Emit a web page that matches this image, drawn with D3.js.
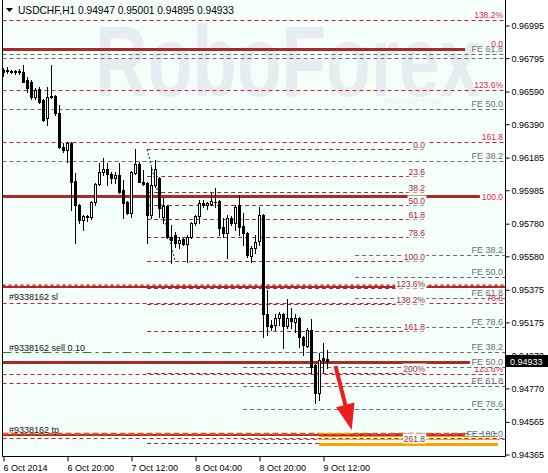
<!DOCTYPE html>
<html><head><meta charset="utf-8">
<script src="https://cdn.jsdelivr.net/npm/d3@7"></script>
<style>
html,body{margin:0;padding:0;background:#fff;}
svg{display:block;font-family:"Liberation Sans",Arial,sans-serif;}
</style>
</head><body>
<svg id="c" width="548" height="473"></svg>
<script>
// ---------------- DATA ----------------
const symbolTitle = "USDCHF,H1";
const lastOHLC = [0.94947, 0.95001, 0.94895, 0.94933];
const lastPrice = 0.94933;

const opens = [0.96719,0.96719,0.96713,0.96707,0.96713,0.96707,0.96658,0.96646,0.96554,0.96603,
0.96535,0.96425,0.96554,0.96560,0.96456,0.96247,0.96229,0.96272,0.96039,0.95891,
0.95799,0.95824,0.95815,0.95910,0.96020,0.96094,0.96112,0.96082,0.96057,0.96075,
0.95983,0.95910,0.95842,0.96088,0.96143,0.96033,0.96026,0.95830,0.96014,0.96057,
0.95818,0.95885,0.95695,0.95708,0.95659,0.95683,0.95653,0.95695,0.95781,0.95824,
0.95904,0.95891,0.95898,0.95910,0.95916,0.95757,0.95720,0.95812,0.95781,0.95891,
0.95763,0.95720,0.95579,0.95628,0.95671,0.95830,0.95223,0.95156,0.95156,0.95199,
0.95223,0.95150,0.95199,0.95174,0.95199,0.95082,0.95027,0.95125,0.94910,0.94739,
0.94953,0.94947];
const highs = [0.96731,0.96738,0.96719,0.96719,0.96725,0.96750,0.96676,0.96658,0.96609,0.96615,
0.96541,0.96615,0.96750,0.96566,0.96505,0.96272,0.96278,0.96278,0.96088,0.95897,
0.95830,0.95830,0.95916,0.96026,0.96149,0.96180,0.96149,0.96094,0.96094,0.96149,
0.96045,0.95916,0.96100,0.96235,0.96155,0.96106,0.96032,0.96124,0.96167,0.96063,
0.95934,0.95891,0.95769,0.95726,0.95695,0.95689,0.95708,0.95787,0.95830,0.95922,
0.95922,0.95910,0.95965,0.95996,0.95922,0.95812,0.95830,0.95824,0.95891,0.95953,
0.95842,0.95726,0.95640,0.95708,0.95879,0.95836,0.95370,0.95186,0.95223,0.95235,
0.95229,0.95315,0.95260,0.95223,0.95205,0.95088,0.95137,0.95192,0.94916,0.94984,
0.95045,0.95001];
const lows = [0.96682,0.96701,0.96701,0.96695,0.96695,0.96646,0.96584,0.96541,0.96541,0.96517,
0.96407,0.96382,0.96547,0.96443,0.96241,0.96216,0.96155,0.95861,0.95659,0.95781,
0.95738,0.95793,0.95806,0.95891,0.96014,0.96075,0.96014,0.96026,0.96026,0.95965,
0.95812,0.95836,0.95818,0.96082,0.96033,0.96014,0.95659,0.95812,0.96002,0.95818,
0.95781,0.95689,0.95536,0.95634,0.95628,0.95646,0.95542,0.95689,0.95769,0.95781,
0.95879,0.95867,0.95891,0.95879,0.95708,0.95695,0.95567,0.95769,0.95738,0.95708,
0.95646,0.95573,0.95542,0.95597,0.95646,0.95082,0.95094,0.95125,0.95125,0.95156,
0.95015,0.95137,0.95137,0.95113,0.95021,0.94972,0.95021,0.94861,0.94677,0.94696,
0.94868,0.94895];
const closes = [0.96707,0.96713,0.96707,0.96713,0.96707,0.96646,0.96609,0.96554,0.96596,0.96523,
0.96413,0.96554,0.96560,0.96456,0.96247,0.96229,0.96272,0.96033,0.95891,0.95799,
0.95824,0.95815,0.95910,0.96020,0.96094,0.96112,0.96082,0.96057,0.96075,0.95971,
0.95904,0.95842,0.96094,0.96143,0.96033,0.96020,0.95830,0.96014,0.96112,0.95873,
0.95885,0.95695,0.95677,0.95659,0.95677,0.95653,0.95695,0.95781,0.95824,0.95904,
0.95891,0.95904,0.95916,0.95907,0.95750,0.95720,0.95812,0.95781,0.95879,0.95757,
0.95720,0.95585,0.95628,0.95665,0.95830,0.95223,0.95150,0.95143,0.95199,0.95223,
0.95150,0.95199,0.95180,0.95199,0.95082,0.95033,0.95125,0.94898,0.94739,0.94941,
0.94941,0.94933];

const timeTickBars = [0,16,32,48,64,80];
const timeTickLabels = ["6 Oct 2014","6 Oct 20:00","7 Oct 12:00","8 Oct 04:00","8 Oct 20:00","9 Oct 12:00"];
const priceTicks = [0.96995,0.96795,0.96590,0.96390,0.96185,0.95985,0.95780,0.95580,0.95375,0.95175,0.94970,0.94770,0.94565,0.94365];

// full-width Fibonacci expansion levels, labels at the right
const fullLevelPrices = [0.97026,0.96815,0.96791,0.96596,0.96478,0.96276,0.96163,0.95289,0.94858,0.94798,0.94461];
const fullLevelKinds  = ["red","gray","gray","red","gray","red","gray","red","red","red","red"];
const fullLevelLabels = ["138.2%","FE 61.8","","123.6%","FE 50.0","161.8","FE 38.2","78.6","123.6%","",""];

// solid base lines
const basePrices  = [0.96850,0.95948,0.94931];
const baseEndBars = [115.4,119.1,116.6];
const baseLabels  = ["0.0","100.0",""];

// Fibonacci retracement drawn from 7 Oct
const fibA0 = 0.96233, fibA100 = 0.95546, fibAFrom = 35.9, fibATo = 105.4;
const fibARatios = [0,23.6,38.2,50,61.8,78.6,100,123.6,138.2,161.8,200,261.8];
const fibALabels = ["0.0","23.6","38.2","50.0","61.8","78.6","100.0","123.6%","138.2%","161.8","200%","261.8"];

// Fibonacci expansion sets (gray)
const fe1Prices = [0.95585,0.95452,0.95319,0.95142];
const fe1Labels = ["FE 38.2","FE 50.0","FE 61.8","FE 78.6"];
const fe1From = 87.9;
const fe2Prices = [0.94992,0.94898,0.94782,0.94639,0.94455];
const fe2Labels = ["FE 38.2","FE 50.0","FE 61.8","FE 78.6","FE 100.0"];
const fe2From = 59.9;
const extraGrayPrice = 0.94494, extraGrayFrom = 87.4, extraGrayTo = 123.6;

// order lines
const slPrice = 0.95386, sellPrice = 0.94992, tpPrice = 0.94481;
const orderLabels = ["#9338162 sl","#9338162 sell 0.10","#9338162 tp"];
const tpEndBar = 115.4;

// target zone
const zonePrices = [0.94491,0.94473,0.94455,0.94428];
const zoneFrom = 78.9, zoneTo = 123.6, zoneTopTo = 87.4;

// arrow
const arrowFrom = {bar:83.0, price:0.94904};
const arrowTo   = {bar:87.05, price:0.94512};

// ---------------- DRAW ----------------
const W = 548, H = 473;
const BG = "#f5fffa";
const RED = "#e0163f", RED_T = "#dc1f4a", DRED = "#aa2636", DRED_T = "#a3283c",
      GRAY = "#6c6c6c", GRAY_T = "#6e6e7c", BROWN = "#aa2a2a";
const svg = d3.select("#c");
const y = d3.scaleLinear().domain([0.94365,0.96995]).range([454,25]);
const x = d3.scaleLinear().domain([0,125.5]).range([3.5,505.5]);
const L = 2.5, R = 505.5, B = 456.5;
const py = p => Math.round(y(p)) + 0.5;

svg.append("rect").attr("width",W).attr("height",H).attr("fill","#fff");
svg.append("rect").attr("x",0).attr("y",0).attr("width",R).attr("height",B).attr("fill",BG);

svg.append("defs").append("clipPath").attr("id","pc")
  .append("rect").attr("x",L+0.5).attr("y",0).attr("width",R-L-1).attr("height",B-0.5);

// watermark (condensed by vertical stretch)
svg.append("text").attr("transform","translate(95,96) scale(1,1.38)")
  .attr("font-size",73).attr("font-weight","bold")
  .attr("fill","#e5edf0").text("RoboForex");
svg.append("text").attr("x",383).attr("y",104).attr("font-size",7.5)
  .attr("fill","#e8eeee").text("ПОЛУЧАЙ ПРИБ");

const g = svg.append("g").attr("clip-path","url(#pc)");

function hline(p, x1, x2, color, w, dash){
  const yy = w % 2 === 1 ? py(p) : Math.round(y(p));
  return g.append("line").attr("x1",x1).attr("x2",x2).attr("y1",yy).attr("y2",yy)
    .attr("stroke",color).attr("stroke-width",w).attr("stroke-dasharray",dash||null);
}
function label(txt, xr, yb, color, anchor, boxed, size){
  if(!txt) return;
  const t = g.append("text").attr("x",xr).attr("y",yb).attr("font-size",size||8.5)
    .attr("text-anchor",anchor||"end").attr("fill",color).text(txt);
  if(boxed){
    const bb = t.node().getBBox();
    g.insert("rect", () => t.node()).attr("x",bb.x-1).attr("y",bb.y).attr("width",bb.width+2)
      .attr("height",bb.height).attr("fill",BG);
  }
}

// full-width levels
fullLevelPrices.forEach((p,i)=>{
  const c = fullLevelKinds[i]==="red" ? RED : GRAY;
  hline(p, L, R, c, 1, "4,3");
});

// FE sets
fe1Prices.forEach(p=>hline(p, x(fe1From), R, GRAY, 1, "4,3"));
fe2Prices.forEach(p=>hline(p, x(fe2From), R, GRAY, 1, "4,3"));
hline(extraGrayPrice, x(extraGrayFrom), x(extraGrayTo), GRAY, 1, "4,3");

// Fibonacci retracement A
const fibAPrices = fibARatios.map(r => fibA0 + (fibA100 - fibA0) * r / 100);
fibAPrices.forEach(p=>hline(p, x(fibAFrom), x(fibATo), DRED, 1, "4,3"));

// sell order line (green dash-dot)
hline(sellPrice, L, x(fe2From), "#1c8c1c", 1, "9,4,3,4");

// solid base lines
basePrices.forEach((p,i)=>hline(p, L, x(baseEndBars[i]), BROWN, 3));

// SL / TP lines
hline(slPrice, L, R, BROWN, 2);
g.append("line").attr("x1",L).attr("x2",R).attr("y1",Math.round(y(slPrice))-1.5).attr("y2",Math.round(y(slPrice))-1.5)
  .attr("stroke","#e02030").attr("stroke-width",2).attr("stroke-dasharray","3,3");
hline(tpPrice, L, x(tpEndBar), BROWN, 2);
g.append("line").attr("x1",L).attr("x2",x(tpEndBar)).attr("y1",Math.round(y(tpPrice))-1).attr("y2",Math.round(y(tpPrice))-1)
  .attr("stroke","#f04818").attr("stroke-width",2.5).attr("stroke-dasharray","6,3");

// target zone (striped)
zonePrices.forEach((p,i)=>{
  const x2 = i===0 ? x(zoneTopTo) : x(zoneTo);
  const w = i===zonePrices.length-1 ? 3 : 1;
  hline(p, x(zoneFrom), x2, "#ffa000", w);
});

// navy trend line of retracement
g.append("line").attr("x1",x(fibAFrom)).attr("y1",y(fibA0)).attr("x2",x(42.9)).attr("y2",y(fibA100))
  .attr("stroke","#1a1a7a").attr("stroke-width",1).attr("stroke-dasharray","2,2");

// candles
const cg = g.append("g");
opens.forEach((o,i)=>{
  const cx = x(i), h = highs[i], l = lows[i], c = closes[i];
  cg.append("line").attr("x1",cx).attr("x2",cx).attr("y1",Math.round(y(h))).attr("y2",Math.round(y(l))+1)
    .attr("stroke","#000").attr("stroke-width",1);
  const yt = Math.round(y(Math.max(o,c))), yb = Math.round(y(Math.min(o,c)));
  if(c < o){
    cg.append("rect").attr("x",cx-1.5).attr("y",yt).attr("width",3).attr("height",Math.max(1,yb-yt+1)).attr("fill","#000");
  } else {
    cg.append("rect").attr("x",cx-1).attr("y",yt+0.5).attr("width",2).attr("height",Math.max(0.5,yb-yt))
      .attr("fill","#fff").attr("stroke","#000").attr("stroke-width",1);
  }
});

// labels: FE set 1 (under red labels)
fe1Prices.forEach((p,i)=>label(fe1Labels[i], 503, py(p)-2.5, GRAY_T, "end", false, 9));
// full-width labels
fullLevelPrices.forEach((p,i)=>{
  const c = fullLevelKinds[i]==="red" ? RED_T : GRAY_T;
  label(fullLevelLabels[i], 503, py(p)-2.5, c, "end", false, fullLevelKinds[i]==="red"?8.5:9);
});
// base-line labels
label(baseLabels[0], 503, py(basePrices[0])-3, RED_T, "end", false, 8.5);
label(baseLabels[1], 503, py(basePrices[1])+3.5, RED_T, "end", false, 8.5);
// FE set 2
fe2Prices.forEach((p,i)=>label(fe2Labels[i], 503, py(p)-2.5, GRAY_T, "end", i===1, 9));
// retracement labels
fibAPrices.forEach((p,i)=>label(fibALabels[i], x(fibATo), py(p)-2, DRED_T, "end", true, 8.5));

// order labels
label(orderLabels[0], 9, py(slPrice)+12.5, "#111", "start", false, 9);
label(orderLabels[1], 9, py(sellPrice)-2, "#111", "start", false, 9);
label(orderLabels[2], 9, py(tpPrice)-2.5, "#111", "start", false, 9);

// red arrow
(function(){
  const x1 = x(arrowFrom.bar), y1 = y(arrowFrom.price), x2 = x(arrowTo.bar), y2 = y(arrowTo.price);
  const dx = x2-x1, dy = y2-y1, len = Math.hypot(dx,dy), ux = dx/len, uy = dy/len;
  const headL = 26, headW = 9.5;
  const bx = x2 - ux*headL, by = y2 - uy*headL;
  g.append("line").attr("x1",x1).attr("y1",y1).attr("x2",bx+ux*2).attr("y2",by+uy*2)
    .attr("stroke","#f01c1c").attr("stroke-width",4);
  g.append("polygon").attr("points",[[x2,y2],[bx-uy*headW,by+ux*headW],[bx+uy*headW,by-ux*headW]].map(d=>d.join(",")).join(" "))
    .attr("fill","#f01c1c");
})();

// title
svg.append("polygon").attr("points","6,8 13,8 9.5,12").attr("fill","#000");
svg.append("text").attr("x",18).attr("y",14).attr("font-size",10.2).attr("fill","#000")
  .text(symbolTitle + "  " + lastOHLC.map(v=>v.toFixed(5)).join(" "));

// axes
svg.append("line").attr("x1",L).attr("x2",L).attr("y1",0).attr("y2",B).attr("stroke","#000");
svg.append("line").attr("x1",R).attr("x2",R).attr("y1",0).attr("y2",B).attr("stroke","#000");
svg.append("line").attr("x1",L).attr("x2",R).attr("y1",B).attr("y2",B).attr("stroke","#000");

const yAxis = d3.axisRight(y).tickValues(priceTicks).tickFormat(d3.format(".5f")).tickSize(4).tickPadding(2);
const ya = svg.append("g").attr("transform",`translate(${R},0.5)`).call(yAxis);
ya.select(".domain").remove();
ya.selectAll("text").attr("font-size",9).attr("font-family","Liberation Sans, Arial, sans-serif").attr("fill","#000");
ya.selectAll("line").attr("stroke","#000");

const xAxis = d3.axisBottom(x).tickValues(timeTickBars).tickFormat((d,i)=>timeTickLabels[i]).tickSize(5).tickPadding(3);
const xa = svg.append("g").attr("transform",`translate(0,${B})`).call(xAxis);
xa.select(".domain").remove();
xa.selectAll("text").attr("text-anchor","start").attr("dx",-0.5).attr("font-size",9)
  .attr("font-family","Liberation Sans, Arial, sans-serif").attr("fill","#000");
xa.selectAll("line").attr("stroke","#000");

// current price box
const cy = y(lastPrice);
svg.append("rect").attr("x",506).attr("y",Math.round(cy)-6).attr("width",42).attr("height",12).attr("fill","#000");
svg.append("text").attr("x",510).attr("y",Math.round(cy)+3.5).attr("font-size",9).attr("fill","#fff").text(lastPrice.toFixed(5));
</script>
</body></html>
